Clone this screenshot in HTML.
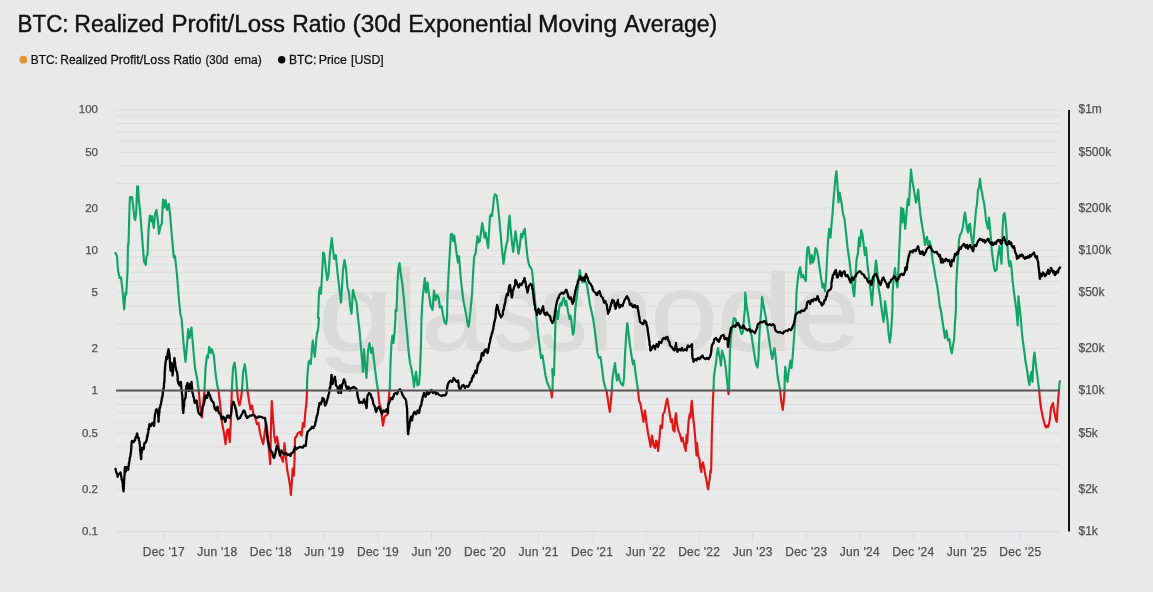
<!DOCTYPE html>
<html><head><meta charset="utf-8"><title>BTC: Realized Profit/Loss Ratio</title>
<style>
html,body{margin:0;padding:0;background:#e9e9e9;}
body{width:1153px;height:592px;overflow:hidden;position:relative;font-family:"Liberation Sans",sans-serif;}
svg{position:absolute;left:0;top:0;will-change:transform;}
text{font-family:"Liberation Sans",sans-serif;}
</style></head><body>
<svg width="1153" height="592" viewBox="0 0 1153 592">
<rect width="1153" height="592" fill="#e9e9e9"/>
<g id="wm" fill="#dadada" stroke="#dadada" stroke-width="1.3" font-size="115">
<text transform="translate(317.99,349.5) scale(1.1807,0.945)" vector-effect="non-scaling-stroke">g</text>
<text transform="translate(390.31,349.5) scale(1.0700,1)" vector-effect="non-scaling-stroke">l</text>
<text transform="translate(421.48,349.5) scale(0.9847,0.945)" vector-effect="non-scaling-stroke">a</text>
<text transform="translate(493.79,349.5) scale(0.8340,0.945)" vector-effect="non-scaling-stroke">s</text>
<text transform="translate(539.96,349.5) scale(0.8120,0.945)" vector-effect="non-scaling-stroke">s</text>
<text transform="translate(587.02,349.5) scale(1.0297,0.945)" vector-effect="non-scaling-stroke">n</text>
<text transform="translate(650.40,349.5) scale(1.0525,0.945)" vector-effect="non-scaling-stroke">o</text>
<text transform="translate(716.70,349.5) scale(1.2000,0.958)" vector-effect="non-scaling-stroke">d</text>
<text transform="translate(791.68,349.5) scale(1.0642,0.945)" vector-effect="non-scaling-stroke">e</text>
</g>
<line x1="116" x2="1060" y1="531.4" y2="531.4" stroke="#dddde1" stroke-width="1"/>
<line x1="116" x2="1060" y1="489.1" y2="489.1" stroke="#dddde1" stroke-width="1"/>
<line x1="116" x2="1060" y1="464.4" y2="464.4" stroke="#dddde1" stroke-width="1"/>
<line x1="116" x2="1060" y1="446.8" y2="446.8" stroke="#dddde1" stroke-width="1"/>
<line x1="116" x2="1060" y1="433.2" y2="433.2" stroke="#dddde1" stroke-width="1"/>
<line x1="116" x2="1060" y1="422.1" y2="422.1" stroke="#dddde1" stroke-width="1"/>
<line x1="116" x2="1060" y1="412.7" y2="412.7" stroke="#dddde1" stroke-width="1"/>
<line x1="116" x2="1060" y1="404.5" y2="404.5" stroke="#dddde1" stroke-width="1"/>
<line x1="116" x2="1060" y1="397.3" y2="397.3" stroke="#dddde1" stroke-width="1"/>
<line x1="116" x2="1060" y1="390.9" y2="390.9" stroke="#dddde1" stroke-width="1"/>
<line x1="116" x2="1060" y1="348.6" y2="348.6" stroke="#dddde1" stroke-width="1"/>
<line x1="116" x2="1060" y1="323.9" y2="323.9" stroke="#dddde1" stroke-width="1"/>
<line x1="116" x2="1060" y1="306.3" y2="306.3" stroke="#dddde1" stroke-width="1"/>
<line x1="116" x2="1060" y1="292.7" y2="292.7" stroke="#dddde1" stroke-width="1"/>
<line x1="116" x2="1060" y1="281.6" y2="281.6" stroke="#dddde1" stroke-width="1"/>
<line x1="116" x2="1060" y1="272.2" y2="272.2" stroke="#dddde1" stroke-width="1"/>
<line x1="116" x2="1060" y1="264.0" y2="264.0" stroke="#dddde1" stroke-width="1"/>
<line x1="116" x2="1060" y1="256.8" y2="256.8" stroke="#dddde1" stroke-width="1"/>
<line x1="116" x2="1060" y1="250.4" y2="250.4" stroke="#dddde1" stroke-width="1"/>
<line x1="116" x2="1060" y1="208.1" y2="208.1" stroke="#dddde1" stroke-width="1"/>
<line x1="116" x2="1060" y1="183.4" y2="183.4" stroke="#dddde1" stroke-width="1"/>
<line x1="116" x2="1060" y1="165.8" y2="165.8" stroke="#dddde1" stroke-width="1"/>
<line x1="116" x2="1060" y1="152.2" y2="152.2" stroke="#dddde1" stroke-width="1"/>
<line x1="116" x2="1060" y1="141.1" y2="141.1" stroke="#dddde1" stroke-width="1"/>
<line x1="116" x2="1060" y1="131.7" y2="131.7" stroke="#dddde1" stroke-width="1"/>
<line x1="116" x2="1060" y1="123.5" y2="123.5" stroke="#dddde1" stroke-width="1"/>
<line x1="116" x2="1060" y1="116.3" y2="116.3" stroke="#dddde1" stroke-width="1"/>
<line x1="116" x2="1060" y1="109.9" y2="109.9" stroke="#dddde1" stroke-width="1"/>
<line x1="116" x2="1060" y1="531.5" y2="531.5" stroke="#d5dae3" stroke-width="1"/>
<line x1="163.8" x2="163.8" y1="531" y2="541.5" stroke="#d5dae3" stroke-width="1"/>
<text class="xl" x="163.8" y="556" text-anchor="middle" font-size="12" letter-spacing="0.25" fill="#505050" stroke="#505050" stroke-width="0.25">Dec '17</text>
<line x1="217.3" x2="217.3" y1="531" y2="541.5" stroke="#d5dae3" stroke-width="1"/>
<text class="xl" x="217.3" y="556" text-anchor="middle" font-size="12" letter-spacing="0.25" fill="#505050" stroke="#505050" stroke-width="0.25">Jun '18</text>
<line x1="270.9" x2="270.9" y1="531" y2="541.5" stroke="#d5dae3" stroke-width="1"/>
<text class="xl" x="270.9" y="556" text-anchor="middle" font-size="12" letter-spacing="0.25" fill="#505050" stroke="#505050" stroke-width="0.25">Dec '18</text>
<line x1="324.4" x2="324.4" y1="531" y2="541.5" stroke="#d5dae3" stroke-width="1"/>
<text class="xl" x="324.4" y="556" text-anchor="middle" font-size="12" letter-spacing="0.25" fill="#505050" stroke="#505050" stroke-width="0.25">Jun '19</text>
<line x1="378.0" x2="378.0" y1="531" y2="541.5" stroke="#d5dae3" stroke-width="1"/>
<text class="xl" x="378.0" y="556" text-anchor="middle" font-size="12" letter-spacing="0.25" fill="#505050" stroke="#505050" stroke-width="0.25">Dec '19</text>
<line x1="431.5" x2="431.5" y1="531" y2="541.5" stroke="#d5dae3" stroke-width="1"/>
<text class="xl" x="431.5" y="556" text-anchor="middle" font-size="12" letter-spacing="0.25" fill="#505050" stroke="#505050" stroke-width="0.25">Jun '20</text>
<line x1="485.0" x2="485.0" y1="531" y2="541.5" stroke="#d5dae3" stroke-width="1"/>
<text class="xl" x="485.0" y="556" text-anchor="middle" font-size="12" letter-spacing="0.25" fill="#505050" stroke="#505050" stroke-width="0.25">Dec '20</text>
<line x1="538.6" x2="538.6" y1="531" y2="541.5" stroke="#d5dae3" stroke-width="1"/>
<text class="xl" x="538.6" y="556" text-anchor="middle" font-size="12" letter-spacing="0.25" fill="#505050" stroke="#505050" stroke-width="0.25">Jun '21</text>
<line x1="592.1" x2="592.1" y1="531" y2="541.5" stroke="#d5dae3" stroke-width="1"/>
<text class="xl" x="592.1" y="556" text-anchor="middle" font-size="12" letter-spacing="0.25" fill="#505050" stroke="#505050" stroke-width="0.25">Dec '21</text>
<line x1="645.7" x2="645.7" y1="531" y2="541.5" stroke="#d5dae3" stroke-width="1"/>
<text class="xl" x="645.7" y="556" text-anchor="middle" font-size="12" letter-spacing="0.25" fill="#505050" stroke="#505050" stroke-width="0.25">Jun '22</text>
<line x1="699.2" x2="699.2" y1="531" y2="541.5" stroke="#d5dae3" stroke-width="1"/>
<text class="xl" x="699.2" y="556" text-anchor="middle" font-size="12" letter-spacing="0.25" fill="#505050" stroke="#505050" stroke-width="0.25">Dec '22</text>
<line x1="752.7" x2="752.7" y1="531" y2="541.5" stroke="#d5dae3" stroke-width="1"/>
<text class="xl" x="752.7" y="556" text-anchor="middle" font-size="12" letter-spacing="0.25" fill="#505050" stroke="#505050" stroke-width="0.25">Jun '23</text>
<line x1="806.3" x2="806.3" y1="531" y2="541.5" stroke="#d5dae3" stroke-width="1"/>
<text class="xl" x="806.3" y="556" text-anchor="middle" font-size="12" letter-spacing="0.25" fill="#505050" stroke="#505050" stroke-width="0.25">Dec '23</text>
<line x1="859.8" x2="859.8" y1="531" y2="541.5" stroke="#d5dae3" stroke-width="1"/>
<text class="xl" x="859.8" y="556" text-anchor="middle" font-size="12" letter-spacing="0.25" fill="#505050" stroke="#505050" stroke-width="0.25">Jun '24</text>
<line x1="913.4" x2="913.4" y1="531" y2="541.5" stroke="#d5dae3" stroke-width="1"/>
<text class="xl" x="913.4" y="556" text-anchor="middle" font-size="12" letter-spacing="0.25" fill="#505050" stroke="#505050" stroke-width="0.25">Dec '24</text>
<line x1="966.9" x2="966.9" y1="531" y2="541.5" stroke="#d5dae3" stroke-width="1"/>
<text class="xl" x="966.9" y="556" text-anchor="middle" font-size="12" letter-spacing="0.25" fill="#505050" stroke="#505050" stroke-width="0.25">Jun '25</text>
<line x1="1020.4" x2="1020.4" y1="531" y2="541.5" stroke="#d5dae3" stroke-width="1"/>
<text class="xl" x="1020.4" y="556" text-anchor="middle" font-size="12" letter-spacing="0.25" fill="#505050" stroke="#505050" stroke-width="0.25">Dec '25</text>
<text class="yl" x="98" y="113.4" text-anchor="end" font-size="11.5" fill="#505050" stroke="#505050" stroke-width="0.25">100</text>
<text class="yl" x="98" y="155.7" text-anchor="end" font-size="11.5" fill="#505050" stroke="#505050" stroke-width="0.25">50</text>
<text class="yl" x="98" y="211.6" text-anchor="end" font-size="11.5" fill="#505050" stroke="#505050" stroke-width="0.25">20</text>
<text class="yl" x="98" y="253.9" text-anchor="end" font-size="11.5" fill="#505050" stroke="#505050" stroke-width="0.25">10</text>
<text class="yl" x="98" y="296.2" text-anchor="end" font-size="11.5" fill="#505050" stroke="#505050" stroke-width="0.25">5</text>
<text class="yl" x="98" y="352.1" text-anchor="end" font-size="11.5" fill="#505050" stroke="#505050" stroke-width="0.25">2</text>
<text class="yl" x="98" y="394.4" text-anchor="end" font-size="11.5" fill="#505050" stroke="#505050" stroke-width="0.25">1</text>
<text class="yl" x="98" y="436.7" text-anchor="end" font-size="11.5" fill="#505050" stroke="#505050" stroke-width="0.25">0.5</text>
<text class="yl" x="98" y="492.6" text-anchor="end" font-size="11.5" fill="#505050" stroke="#505050" stroke-width="0.25">0.2</text>
<text class="yl" x="98" y="534.9" text-anchor="end" font-size="11.5" fill="#505050" stroke="#505050" stroke-width="0.25">0.1</text>
<text class="yr" x="1078.5" y="113.4" font-size="12" fill="#505050" stroke="#505050" stroke-width="0.25">$1m</text>
<text class="yr" x="1078.5" y="155.7" font-size="12" fill="#505050" stroke="#505050" stroke-width="0.25">$500k</text>
<text class="yr" x="1078.5" y="211.6" font-size="12" fill="#505050" stroke="#505050" stroke-width="0.25">$200k</text>
<text class="yr" x="1078.5" y="253.9" font-size="12" fill="#505050" stroke="#505050" stroke-width="0.25">$100k</text>
<text class="yr" x="1078.5" y="296.2" font-size="12" fill="#505050" stroke="#505050" stroke-width="0.25">$50k</text>
<text class="yr" x="1078.5" y="352.1" font-size="12" fill="#505050" stroke="#505050" stroke-width="0.25">$20k</text>
<text class="yr" x="1078.5" y="394.4" font-size="12" fill="#505050" stroke="#505050" stroke-width="0.25">$10k</text>
<text class="yr" x="1078.5" y="436.7" font-size="12" fill="#505050" stroke="#505050" stroke-width="0.25">$5k</text>
<text class="yr" x="1078.5" y="492.6" font-size="12" fill="#505050" stroke="#505050" stroke-width="0.25">$2k</text>
<text class="yr" x="1078.5" y="534.9" font-size="12" fill="#505050" stroke="#505050" stroke-width="0.25">$1k</text>
<line x1="1069" x2="1069" y1="109.9" y2="531.4" stroke="#111" stroke-width="2"/>
<path d="M115.5 253.0 L117.0 256.2 L118.0 270.0 L119.5 278.0 L121.0 277.5 L122.5 290.0 L124.2 309.5 L125.5 292.5 L126.2 294.5 L127.5 272.5 L128.0 244.0 L128.5 245.0 L129.5 207.5 L130.0 197.0 L132.0 197.0 L133.0 205.0 L134.5 218.8 L135.2 220.0 L136.2 212.5 L137.2 186.2 L138.0 186.2 L138.8 200.0 L140.0 210.0 L142.5 242.5 L144.0 261.2 L145.8 265.0 L146.5 256.2 L147.5 255.0 L148.5 230.0 L149.8 215.5 L151.0 221.2 L152.0 216.2 L153.8 228.0 L155.0 213.8 L156.5 210.0 L158.0 222.5 L159.0 233.8 L160.5 226.2 L161.8 223.8 L163.0 199.5 L164.2 207.5 L165.5 200.0 L167.0 210.0 L168.8 203.8 L170.0 213.8 L172.0 237.5 L173.8 257.5 L175.0 256.2 L177.0 275.0 L179.0 300.0 L180.5 315.0 L181.5 318.0 L181.5 318.0 L183.5 343.0 L185.5 361.8 L187.0 345.5 L188.2 329.2 L189.5 338.0 L191.5 327.5 L193.0 345.5 L195.0 368.0 L197.0 378.0 L198.7 390.3" fill="none" stroke="#10a567" stroke-width="2.15" stroke-linejoin="round" stroke-linecap="round"/>
<path d="M198.7 390.3 L198.8 390.5 L200.0 405.5 L202.0 417.5 L203.2 403.0 L204.5 390.5 L204.5 390.3" fill="none" stroke="#e01515" stroke-width="2.15" stroke-linejoin="round" stroke-linecap="round"/>
<path d="M204.5 390.3 L205.5 368.0 L207.0 355.5 L208.0 358.0 L209.2 346.8 L210.8 353.0 L212.0 349.2 L213.8 355.5 L215.5 373.0 L217.5 386.8 L218.4 390.3" fill="none" stroke="#10a567" stroke-width="2.15" stroke-linejoin="round" stroke-linecap="round"/>
<path d="M218.4 390.3 L218.5 390.5 L220.0 403.0 L222.0 423.0 L224.0 433.0 L225.5 444.2 L227.0 430.5 L228.2 429.2 L229.8 442.2 L231.0 418.0 L231.8 390.5 L231.8 390.3" fill="none" stroke="#e01515" stroke-width="2.15" stroke-linejoin="round" stroke-linecap="round"/>
<path d="M231.8 390.3 L233.0 368.0 L234.5 362.5 L235.8 371.8 L237.0 390.3" fill="none" stroke="#10a567" stroke-width="2.15" stroke-linejoin="round" stroke-linecap="round"/>
<path d="M237.0 390.3 L237.0 390.5 L238.2 400.5 L239.5 405.5 L241.0 398.0 L242.0 390.5 L242.0 390.3" fill="none" stroke="#e01515" stroke-width="2.15" stroke-linejoin="round" stroke-linecap="round"/>
<path d="M242.0 390.3 L243.0 373.0 L244.8 364.2 L246.0 373.0 L247.5 390.3" fill="none" stroke="#10a567" stroke-width="2.15" stroke-linejoin="round" stroke-linecap="round"/>
<path d="M247.5 390.3 L247.5 390.5 L249.0 400.5 L250.5 409.2 L252.0 405.5 L253.5 414.2 L255.0 416.8 L257.0 424.2 L258.5 423.0 L260.0 433.0 L262.0 440.5 L263.2 444.2 L265.0 430.5 L266.2 423.0 L267.5 433.0 L269.0 450.5 L270.2 464.2 L271.0 425.5 L271.8 401.0 L273.0 418.0 L274.2 435.5 L275.5 443.0 L277.0 436.8 L278.5 445.5 L280.0 454.2 L281.5 458.0 L283.0 461.8 L284.5 443.0 L285.8 456.3 L287.3 470.3 L288.7 477.4 L290.1 486.2 L290.9 494.9 L291.8 482.6 L292.7 468.6 L293.9 475.6 L294.6 458.0 L295.0 437.8 L296.2 436.8 L298.0 433.0 L300.0 431.8 L301.5 435.5 L303.0 423.0 L304.2 426.8 L305.5 410.5 L306.5 403.0 L307.0 390.5 L307.0 390.3" fill="none" stroke="#e01515" stroke-width="2.15" stroke-linejoin="round" stroke-linecap="round"/>
<path d="M307.0 390.3 L307.2 378.0 L308.5 363.0 L309.5 360.5 L310.8 364.2 L312.0 348.0 L312.8 340.5 L313.8 350.5 L314.8 356.8 L316.0 343.0 L317.0 333.0 L318.0 330.5 L319.0 318.0 L318.0 318.0 L319.0 292.5 L320.0 287.5 L321.0 293.8 L322.0 275.0 L323.2 252.5 L324.2 253.8 L325.8 268.8 L327.2 280.0 L328.5 275.0 L330.0 252.5 L331.8 238.2 L333.0 250.0 L334.2 258.8 L335.8 255.0 L337.5 272.5 L339.5 290.0 L341.0 302.5 L341.8 290.0 L343.0 270.0 L344.5 260.0 L346.0 268.8 L347.5 287.5 L349.0 292.5 L350.0 305.0 L351.5 313.8 L353.0 290.0 L354.5 296.2 L356.5 302.5 L358.0 318.0 L359.5 330.5 L361.2 350.5 L363.0 371.8 L364.0 349.2 L365.0 363.0 L366.5 378.0 L368.0 350.5 L369.5 343.0 L371.0 353.0 L372.5 347.5 L374.0 360.5 L375.5 373.0 L377.0 384.2 L378.0 390.3" fill="none" stroke="#10a567" stroke-width="2.15" stroke-linejoin="round" stroke-linecap="round"/>
<path d="M378.0 390.3 L378.0 390.5 L379.5 404.2 L381.0 408.0 L382.0 418.0 L383.0 425.5 L384.5 416.8 L385.8 415.5 L387.0 415.0 L387.5 413.8 L388.2 405.5 L389.0 396.0 L389.4 391.0 L389.5 390.3" fill="none" stroke="#e01515" stroke-width="2.15" stroke-linejoin="round" stroke-linecap="round"/>
<path d="M389.5 390.3 L389.8 388.0 L390.5 363.0 L391.5 343.0 L392.5 335.5 L393.5 343.0 L394.5 333.0 L395.5 318.0 L395.5 310.0 L396.5 311.2 L397.5 282.5 L398.5 267.5 L399.5 263.0 L401.0 275.0 L402.5 285.0 L404.0 300.0 L405.5 318.0 L407.0 333.0 L408.5 350.5 L410.0 363.0 L411.5 369.2 L413.0 378.0 L414.0 386.8 L415.0 378.0 L416.0 371.8 L417.5 385.5 L419.0 384.2 L420.0 371.8 L421.0 343.0 L421.5 318.0 L422.5 300.0 L423.5 290.0 L424.8 278.0 L426.0 292.5 L427.5 282.5 L429.0 295.0 L430.5 305.0 L432.5 310.0 L434.0 290.5 L435.5 300.0 L437.0 295.0 L438.5 297.5 L440.0 307.5 L441.5 306.2 L443.0 315.0 L444.5 321.8 L446.0 324.2 L447.0 318.0 L447.5 295.0 L448.8 270.0 L449.8 252.5 L450.8 234.5 L452.0 233.8 L453.0 241.2 L454.2 235.5 L455.5 245.0 L457.0 256.2 L458.0 262.5 L459.0 256.2 L460.5 275.0 L462.0 290.0 L463.5 301.2 L465.0 308.8 L466.5 316.2 L467.5 323.0 L468.5 326.8 L469.5 320.5 L470.5 310.0 L472.0 295.0 L473.0 275.0 L474.2 256.2 L475.5 253.8 L476.5 245.0 L477.5 236.2 L478.5 242.5 L479.8 241.2 L481.0 232.5 L482.2 223.0 L483.5 230.0 L484.5 237.5 L485.5 232.5 L487.0 241.2 L488.2 248.0 L489.0 232.5 L490.0 216.2 L491.0 214.5 L492.0 216.2 L493.0 207.5 L494.0 197.5 L495.0 194.2 L496.5 195.5 L497.5 202.5 L499.0 216.2 L500.5 232.5 L502.0 250.0 L503.5 263.8 L505.0 252.5 L506.5 243.8 L507.5 241.2 L508.5 225.0 L509.5 215.5 L510.5 227.5 L512.0 242.5 L513.2 252.0 L514.5 240.0 L515.5 231.2 L517.0 242.5 L518.5 253.8 L520.0 245.0 L521.0 233.8 L522.2 237.5 L523.5 231.2 L524.8 228.8 L526.0 242.5 L527.5 257.5 L529.0 265.0 L530.5 267.5 L532.0 270.0 L533.0 280.0 L534.5 295.0 L535.5 307.5 L536.5 318.0 L538.0 333.0 L539.5 345.5 L541.0 358.0 L542.5 355.5 L544.0 365.5 L545.5 375.5 L547.0 381.8 L548.5 385.5 L550.0 389.2 L550.8 390.3" fill="none" stroke="#10a567" stroke-width="2.15" stroke-linejoin="round" stroke-linecap="round"/>
<path d="M550.8 390.3 L551.0 390.5 L551.8 397.5 L552.5 390.5 L552.5 390.3" fill="none" stroke="#e01515" stroke-width="2.15" stroke-linejoin="round" stroke-linecap="round"/>
<path d="M552.5 390.3 L552.8 378.0 L552.2 369.2 L554.0 375.5 L554.5 355.5 L555.0 338.8 L555.5 320.5 L556.3 310.4 L557.1 314.4 L557.9 319.0 L558.7 312.4 L559.7 304.8 L560.7 302.8 L561.5 305.8 L562.6 300.3 L563.8 297.7 L564.8 301.8 L565.4 305.3 L566.2 300.8 L567.0 305.3 L568.0 311.4 L568.8 315.5 L569.6 319.0 L570.5 315.5 L571.3 320.5 L572.1 327.6 L572.9 334.7 L573.7 332.7 L574.5 323.6 L575.2 310.4 L576.2 301.3 L577.0 295.0 L578.5 282.5 L579.8 270.0 L581.0 277.5 L582.5 282.5 L584.0 280.0 L585.5 281.2 L587.0 285.0 L588.5 295.0 L590.0 305.0 L591.5 311.2 L593.0 318.0 L594.5 328.0 L596.0 340.5 L597.5 353.0 L599.0 358.0 L600.5 356.8 L602.0 368.0 L603.5 380.5 L605.0 386.8 L606.4 390.3" fill="none" stroke="#10a567" stroke-width="2.15" stroke-linejoin="round" stroke-linecap="round"/>
<path d="M606.4 390.3 L606.5 390.5 L608.0 400.5 L609.8 411.8 L611.0 400.5 L611.8 390.5 L611.8 390.3" fill="none" stroke="#e01515" stroke-width="2.15" stroke-linejoin="round" stroke-linecap="round"/>
<path d="M611.8 390.3 L612.5 378.0 L613.5 371.8 L615.0 363.0 L616.0 373.0 L617.0 380.5 L618.5 374.2 L620.0 381.8 L621.5 384.2 L623.0 385.5 L624.0 378.0 L625.0 355.5 L626.0 338.0 L627.2 323.0 L628.5 333.0 L630.0 345.5 L631.5 355.5 L633.0 364.2 L634.0 360.5 L635.5 373.0 L637.0 383.0 L638.0 390.3" fill="none" stroke="#10a567" stroke-width="2.15" stroke-linejoin="round" stroke-linecap="round"/>
<path d="M638.0 390.3 L638.0 390.5 L639.0 400.5 L640.5 404.2 L642.0 413.0 L643.5 421.8 L645.0 410.5 L646.5 423.0 L648.0 433.0 L649.5 440.5 L650.5 446.8 L652.0 435.5 L653.5 445.5 L655.0 448.0 L656.0 440.5 L657.0 443.0 L658.2 451.0 L659.5 438.0 L660.5 425.5 L662.0 428.0 L663.0 414.2 L664.5 411.8 L666.0 403.0 L667.2 398.5 L668.6 407.0 L670.0 415.8 L671.0 422.0 L672.1 419.3 L673.1 429.9 L674.5 431.6 L675.3 417.6 L676.0 413.2 L676.7 421.1 L678.1 429.9 L679.5 433.4 L680.9 437.8 L681.6 441.3 L682.6 437.8 L683.7 443.1 L684.7 447.5 L685.8 451.0 L686.5 435.2 L687.2 443.1 L687.9 431.6 L688.6 421.1 L689.7 414.1 L690.4 417.6 L691.1 407.0 L691.8 400.9 L692.5 408.8 L693.2 417.6 L694.2 426.4 L695.3 438.7 L696.0 449.2 L696.5 455.4 L697.1 443.1 L697.8 452.7 L698.5 457.1 L699.5 458.9 L700.2 466.8 L701.3 472.1 L702.0 464.2 L703.0 462.4 L704.1 467.7 L705.1 473.8 L706.2 479.1 L707.3 485.3 L708.1 489.3 L709.0 482.6 L709.7 479.1 L710.4 470.3 L711.1 472.1 L711.5 452.7 L711.8 435.2 L712.5 414.1 L713.0 398.0 L713.5 390.5 L713.5 390.3" fill="none" stroke="#e01515" stroke-width="2.15" stroke-linejoin="round" stroke-linecap="round"/>
<path d="M713.5 390.3 L714.0 375.5 L715.0 369.2 L716.0 363.0 L717.0 353.0 L718.0 348.0 L719.0 354.2 L720.0 358.0 L721.0 365.5 L722.0 350.5 L723.5 355.5 L725.0 361.8 L726.0 370.5 L727.0 380.5 L728.0 390.3" fill="none" stroke="#10a567" stroke-width="2.15" stroke-linejoin="round" stroke-linecap="round"/>
<path d="M728.0 390.3 L728.0 390.5 L728.5 394.2 L729.0 390.5 L729.0 390.3" fill="none" stroke="#e01515" stroke-width="2.15" stroke-linejoin="round" stroke-linecap="round"/>
<path d="M729.0 390.3 L729.5 370.5 L730.0 350.5 L731.0 335.5 L732.5 325.5 L734.0 318.0 L735.5 319.2 L737.0 325.5 L738.5 323.0 L740.0 329.2 L741.5 334.2 L743.0 331.8 L744.0 318.0 L745.0 308.0 L745.2 292.5 L747.0 308.0 L748.5 318.0 L750.0 328.0 L751.5 335.5 L753.0 345.5 L754.5 355.5 L756.0 364.2 L757.5 367.5 L758.5 358.0 L759.5 333.0 L760.5 318.0 L761.5 308.0 L762.0 297.0 L764.0 308.0 L765.5 315.5 L767.0 325.5 L768.5 335.5 L770.0 345.5 L771.5 355.5 L772.5 359.2 L773.5 351.8 L774.5 348.0 L775.5 355.5 L776.5 365.5 L777.5 375.5 L778.5 381.8 L779.5 386.8 L780.2 390.3" fill="none" stroke="#10a567" stroke-width="2.15" stroke-linejoin="round" stroke-linecap="round"/>
<path d="M780.2 390.3 L780.2 390.5 L781.2 400.5 L782.8 410.0 L783.8 400.5 L784.5 390.5 L784.5 390.3" fill="none" stroke="#e01515" stroke-width="2.15" stroke-linejoin="round" stroke-linecap="round"/>
<path d="M784.5 390.3 L784.8 375.5 L785.2 366.8 L786.2 375.5 L787.5 381.8 L788.5 373.0 L789.5 366.8 L790.5 360.5 L791.5 368.0 L792.5 358.0 L793.5 345.5 L794.5 330.5 L795.5 315.5 L796.0 308.0 L796.5 292.5 L798.0 277.5 L799.2 270.0 L800.2 267.0 L801.5 277.5 L803.0 275.0 L804.5 278.8 L805.8 281.2 L806.5 260.0 L807.5 247.5 L808.5 247.0 L809.5 255.0 L810.5 263.8 L811.8 255.0 L813.0 262.5 L814.2 258.8 L815.5 248.0 L816.8 250.0 L818.0 256.2 L819.5 267.5 L821.0 277.5 L822.5 287.5 L823.5 283.8 L825.0 291.2 L826.0 280.0 L827.0 260.0 L828.0 241.2 L829.2 228.8 L830.5 237.5 L831.5 225.0 L832.5 213.8 L833.5 200.0 L834.5 188.8 L835.5 177.5 L836.5 171.2 L837.5 185.0 L838.5 202.5 L839.5 192.5 L840.5 197.5 L841.5 202.5 L843.0 213.8 L844.5 218.8 L846.0 232.5 L847.5 247.5 L849.0 257.5 L850.5 270.0 L852.0 280.0 L853.0 290.0 L854.2 296.2 L855.5 277.5 L856.5 260.0 L858.0 252.5 L859.0 237.5 L860.0 246.2 L861.2 230.0 L862.5 235.0 L864.0 247.5 L865.0 255.0 L866.0 247.5 L867.5 265.0 L869.0 277.5 L870.5 290.0 L872.0 305.5 L873.0 290.0 L874.5 275.0 L876.0 260.5 L877.2 270.0 L878.5 287.5 L880.0 296.2 L881.5 308.0 L882.5 315.5 L883.5 321.8 L884.5 313.0 L885.0 301.2 L886.0 308.0 L887.5 320.5 L888.5 333.0 L889.8 342.5 L891.0 333.0 L892.0 318.0 L892.5 308.0 L892.5 295.0 L893.5 280.0 L895.0 268.0 L896.0 280.0 L897.5 287.5 L898.5 267.5 L899.5 245.0 L900.5 222.5 L901.2 207.5 L902.2 222.5 L903.2 208.8 L904.2 217.5 L905.2 228.8 L906.2 217.5 L907.2 205.0 L908.0 198.8 L909.0 205.0 L910.0 185.0 L911.0 169.5 L912.2 180.0 L913.5 187.5 L914.8 195.0 L916.0 202.5 L917.2 197.5 L918.2 189.5 L919.2 202.5 L920.5 215.0 L922.0 225.0 L923.5 233.8 L925.0 245.0 L926.0 238.8 L927.0 237.0 L928.0 245.0 L929.5 241.2 L931.0 246.2 L932.5 260.0 L934.0 267.5 L935.5 277.5 L937.0 285.0 L938.5 295.0 L940.0 308.0 L940.5 308.0 L942.0 318.0 L943.5 328.0 L945.0 338.0 L946.5 330.5 L948.0 340.5 L949.5 339.2 L950.5 348.0 L951.8 353.5 L953.0 345.5 L954.0 340.5 L955.0 323.0 L956.0 308.0 L956.0 290.0 L957.0 270.0 L958.0 255.0 L959.0 240.0 L960.0 235.0 L961.5 232.5 L963.0 226.2 L964.0 217.5 L965.0 212.5 L966.0 220.0 L967.0 228.8 L968.0 232.5 L969.0 225.0 L970.0 223.8 L971.0 235.0 L972.0 240.0 L973.0 246.2 L974.0 232.5 L975.0 222.5 L976.0 210.0 L977.0 203.8 L978.0 190.0 L979.0 187.5 L980.0 178.8 L981.0 187.5 L982.0 192.5 L983.0 198.8 L984.0 202.5 L985.0 210.0 L986.0 220.0 L987.0 225.0 L988.0 228.8 L989.0 217.5 L990.0 227.5 L991.0 240.0 L992.0 252.5 L993.0 260.0 L994.0 267.5 L995.0 271.2 L996.5 270.0 L997.5 260.0 L998.5 252.5 L999.5 246.2 L1000.5 255.0 L1001.5 263.8 L1002.0 247.5 L1002.5 230.0 L1003.5 215.0 L1004.5 213.0 L1005.5 220.0 L1006.5 232.5 L1007.5 247.5 L1008.5 260.0 L1009.5 266.2 L1010.5 261.2 L1011.5 267.5 L1012.5 280.0 L1014.0 292.5 L1016.4 310.5 L1017.7 325.4 L1018.4 296.4 L1020.4 314.6 L1022.4 337.6 L1024.5 353.0 L1025.5 361.8 L1026.5 366.8 L1027.5 373.0 L1028.5 380.5 L1029.5 385.0 L1030.5 375.5 L1031.5 371.8 L1032.5 381.8 L1033.0 368.0 L1033.8 356.8 L1034.5 352.5 L1035.5 361.8 L1036.5 370.5 L1037.5 376.8 L1038.5 385.5 L1039.2 390.3" fill="none" stroke="#10a567" stroke-width="2.15" stroke-linejoin="round" stroke-linecap="round"/>
<path d="M1039.2 390.3 L1039.2 390.5 L1040.0 400.5 L1041.0 408.0 L1042.0 413.0 L1043.0 418.0 L1044.0 421.8 L1045.0 425.5 L1046.0 427.5 L1047.0 425.5 L1048.0 426.8 L1049.0 424.2 L1050.0 418.0 L1051.0 408.0 L1052.0 405.5 L1053.0 403.0 L1054.0 410.5 L1055.0 415.5 L1056.0 420.5 L1056.8 421.8 L1057.5 408.0 L1058.5 395.5 L1059.0 390.5 L1059.0 390.3" fill="none" stroke="#e01515" stroke-width="2.15" stroke-linejoin="round" stroke-linecap="round"/>
<path d="M1059.0 390.3 L1059.5 383.0 L1060.0 381.0" fill="none" stroke="#10a567" stroke-width="2.15" stroke-linejoin="round" stroke-linecap="round"/>
<path d="M115.5 468.9 L115.7 469.6 L116.0 471.6 L116.5 472.4 L116.7 473.6 L117.0 473.5 L117.3 474.6 L117.6 476.8 L118.1 474.4 L119.0 474.2 L119.8 473.1 L120.4 472.4 L120.6 472.6 L121.0 474.9 L121.1 475.9 L121.4 476.8 L121.6 479.2 L121.9 480.3 L122.1 479.9 L122.5 482.1 L122.7 482.8 L122.8 483.6 L122.8 485.9 L122.9 486.8 L123.1 486.8 L123.2 489.5 L123.4 489.8 L123.5 491.4 L123.5 490.1 L123.7 489.7 L123.7 487.3 L123.9 486.8 L123.8 486.1 L123.8 485.5 L124.1 483.0 L124.0 481.2 L124.2 479.8 L124.2 480.3 L124.2 478.5 L124.3 478.3 L124.4 476.7 L124.4 475.3 L124.7 474.8 L124.6 472.8 L124.7 470.6 L124.9 470.9 L124.7 470.2 L124.9 468.0 L124.9 467.1 L125.2 467.1 L125.4 468.5 L125.8 469.4 L126.0 471.5 L126.2 469.5 L126.6 469.1 L126.8 467.2 L127.0 467.1 L127.7 468.6 L128.1 469.8 L128.4 469.4 L128.4 466.9 L128.7 465.9 L128.7 466.2 L128.9 463.1 L129.2 462.7 L129.4 460.9 L129.5 460.5 L129.8 457.9 L130.0 457.5 L130.2 456.6 L130.4 456.5 L130.5 454.4 L130.5 453.6 L130.9 453.0 L131.0 451.8 L131.1 449.6 L131.3 448.7 L131.4 446.6 L131.3 445.4 L131.5 444.7 L131.5 443.9 L131.7 442.0 L131.9 441.1 L132.0 441.0 L133.5 442.2 L134.4 440.2 L135.0 440.5 L135.2 439.6 L135.6 437.6 L135.9 436.7 L136.5 436.7 L136.7 434.6 L137.0 433.5 L137.2 433.6 L137.6 435.4 L137.8 437.7 L138.2 438.0 L138.8 438.1 L139.0 440.6 L139.5 441.8 L139.5 443.0 L139.8 444.2 L139.9 446.1 L139.9 445.8 L140.1 446.8 L140.2 448.8 L140.1 449.5 L140.4 451.8 L140.5 453.1 L140.6 454.2 L140.6 453.9 L140.6 455.4 L140.7 455.8 L141.0 457.5 L141.0 459.2 L141.1 459.2 L141.3 458.0 L141.3 457.0 L141.3 454.1 L141.4 452.9 L141.7 452.8 L141.7 452.2 L141.9 450.6 L141.9 448.1 L142.0 448.0 L143.5 449.2 L143.8 449.0 L143.9 447.4 L144.2 444.7 L144.4 443.8 L144.5 443.0 L145.5 442.9 L146.5 440.5 L146.9 439.0 L146.9 438.5 L147.1 435.9 L147.6 436.5 L147.8 433.4 L148.0 433.0 L148.2 433.1 L148.4 430.5 L148.4 428.8 L148.8 429.8 L149.1 427.6 L149.2 426.3 L149.2 426.1 L149.5 424.2 L150.2 424.5 L151.0 426.0 L151.5 424.4 L152.0 423.4 L152.5 423.0 L153.1 423.1 L153.5 424.6 L154.0 426.0 L154.2 425.0 L154.3 423.5 L154.3 422.5 L154.3 421.4 L154.4 420.0 L154.7 417.8 L154.7 417.0 L154.8 417.1 L154.9 415.0 L155.0 414.2 L155.5 413.1 L155.8 410.8 L156.1 409.9 L156.5 409.2 L157.3 410.8 L158.0 411.0 L158.1 412.3 L158.1 414.4 L158.2 414.9 L158.3 415.8 L158.3 416.9 L158.5 418.1 L158.5 419.8 L158.4 421.6 L158.5 421.8 L158.7 420.7 L158.6 420.3 L158.7 417.4 L158.8 416.1 L159.0 415.0 L159.1 415.6 L159.1 412.9 L159.1 413.0 L159.4 412.4 L159.5 409.6 L159.4 408.9 L159.5 408.0 L160.1 407.9 L160.5 404.7 L161.0 404.2 L161.1 403.2 L161.3 401.3 L161.4 401.5 L161.7 400.0 L161.9 397.6 L162.1 398.0 L162.5 395.5 L162.5 395.5 L162.8 395.1 L162.8 392.3 L163.1 391.1 L163.1 390.5 L163.5 389.8 L163.4 389.6 L163.8 386.9 L163.9 386.8 L164.0 385.5 L163.9 383.4 L164.1 383.7 L164.4 381.1 L164.4 381.3 L164.5 378.9 L164.6 377.7 L164.5 377.5 L164.7 376.6 L164.6 374.8 L164.7 374.3 L164.7 372.2 L164.8 370.9 L164.9 370.4 L165.0 370.4 L165.0 368.6 L165.1 367.1 L165.1 365.8 L165.4 365.8 L165.4 363.4 L165.5 363.0 L165.5 362.8 L165.8 361.3 L166.1 359.2 L166.1 357.7 L166.2 356.8 L166.8 358.5 L167.0 359.2 L167.3 357.8 L167.4 357.5 L167.5 355.7 L167.6 353.7 L167.9 352.7 L167.9 352.0 L168.3 350.5 L168.4 351.3 L168.5 349.2 L168.6 350.0 L168.9 351.3 L169.1 352.2 L169.4 353.7 L169.5 355.5 L169.6 357.8 L169.8 357.2 L169.7 358.5 L169.8 358.9 L169.9 361.2 L170.0 361.7 L170.0 362.4 L170.1 363.7 L170.0 364.8 L170.2 366.6 L170.4 368.4 L170.5 369.9 L170.5 370.5 L170.8 369.8 L170.8 367.7 L170.9 367.9 L171.2 366.0 L171.4 363.2 L171.5 363.0 L171.6 365.1 L171.8 365.8 L171.8 365.5 L172.0 367.6 L172.1 369.4 L172.2 370.0 L172.2 371.4 L172.1 371.4 L172.3 372.3 L172.5 373.4 L172.5 375.5 L172.7 374.5 L172.8 373.6 L172.7 372.2 L173.1 371.8 L173.1 370.0 L173.1 369.3 L173.3 368.4 L173.5 366.8 L173.6 364.6 L173.7 365.1 L174.0 364.0 L174.0 362.4 L174.2 361.2 L174.3 360.8 L174.2 359.4 L174.5 358.0 L174.6 358.2 L174.7 360.8 L174.7 361.4 L174.9 361.3 L175.2 363.9 L175.2 365.0 L175.4 365.7 L175.5 366.8 L175.8 367.9 L176.2 370.2 L176.8 371.6 L177.0 371.8 L177.1 371.7 L177.4 374.7 L177.3 375.0 L177.6 375.5 L177.6 376.6 L177.7 377.6 L177.7 380.6 L177.9 381.4 L178.0 381.8 L178.6 383.9 L179.1 383.6 L179.5 385.5 L179.8 384.2 L180.3 381.8 L180.8 381.8 L180.8 382.8 L181.0 383.1 L181.2 384.7 L181.3 385.1 L181.3 388.2 L181.6 389.5 L181.6 390.6 L181.7 390.4 L181.9 393.1 L182.0 393.0 L182.0 393.8 L182.0 394.7 L182.3 395.4 L182.4 396.9 L182.3 398.0 L182.3 399.7 L182.6 400.5 L182.6 402.8 L182.7 403.3 L182.7 405.2 L182.6 405.7 L182.8 406.9 L182.9 408.1 L182.8 408.0 L182.9 410.7 L183.1 410.7 L183.3 411.4 L183.2 413.0 L183.3 413.0 L183.4 411.1 L183.6 409.7 L183.6 407.7 L183.9 406.6 L183.8 406.2 L184.2 406.0 L184.1 403.8 L184.1 402.0 L184.3 401.3 L184.5 400.5 L184.9 398.6 L185.5 398.0 L185.7 397.0 L185.7 396.3 L185.8 394.4 L185.8 393.2 L185.9 391.3 L185.9 392.3 L186.2 390.1 L186.1 389.8 L186.2 387.2 L186.4 386.4 L186.5 385.5 L187.1 385.3 L187.5 383.0 L187.5 385.0 L187.8 384.2 L187.9 387.4 L187.9 387.8 L188.3 388.5 L188.5 390.6 L188.5 391.0 L188.6 391.0 L188.7 387.8 L189.1 387.7 L189.2 387.6 L189.4 385.7 L189.5 384.2 L189.7 385.4 L190.0 385.6 L190.2 387.4 L190.2 389.6 L190.5 390.5 L190.6 388.5 L190.8 388.6 L190.7 386.3 L191.0 386.2 L191.0 384.8 L191.1 384.2 L191.4 382.4 L191.5 381.8 L191.6 384.0 L191.7 384.9 L191.7 384.5 L192.0 387.4 L191.9 386.9 L192.2 388.5 L192.1 389.4 L192.4 391.2 L192.3 391.2 L192.5 393.0 L192.9 393.9 L193.2 395.9 L193.7 397.5 L194.0 398.0 L194.2 399.3 L194.4 401.6 L194.7 402.5 L195.0 403.0 L195.8 401.1 L196.5 400.5 L196.8 401.1 L196.7 402.7 L197.0 403.2 L197.3 405.3 L197.3 405.2 L197.6 406.5 L197.5 407.4 L197.8 408.3 L198.0 410.5 L198.6 412.7 L199.1 413.6 L199.5 414.2 L201.0 415.5 L201.2 415.3 L201.6 412.2 L201.6 412.3 L202.0 410.9 L202.2 408.9 L202.5 408.0 L202.7 406.0 L203.2 405.0 L203.5 405.3 L204.0 403.0 L204.2 402.9 L204.6 400.2 L204.7 400.0 L205.0 396.9 L205.4 396.4 L205.5 395.5 L206.2 396.0 L207.0 398.0 L207.2 397.7 L207.7 395.3 L207.8 394.9 L208.1 391.9 L208.5 391.8 L208.9 394.0 L209.6 394.8 L210.0 395.5 L210.3 396.4 L210.8 399.1 L211.2 398.7 L211.5 400.5 L213.0 401.8 L213.3 402.6 L213.8 403.1 L214.2 406.5 L214.5 406.8 L214.9 409.1 L215.5 408.6 L216.0 410.5 L216.6 410.3 L216.9 407.7 L217.5 406.8 L217.8 407.8 L218.0 410.3 L218.5 411.2 L218.8 412.5 L219.0 413.0 L220.5 414.2 L220.8 415.8 L221.2 416.3 L221.5 418.7 L222.0 419.2 L222.8 417.3 L223.5 416.8 L223.7 417.4 L224.3 418.1 L224.8 420.1 L225.0 421.8 L225.6 421.4 L225.9 418.7 L226.5 418.0 L227.2 415.8 L228.0 415.5 L228.7 417.3 L229.5 418.0 L230.0 416.1 L230.6 415.8 L231.0 414.2 L231.2 413.8 L231.1 412.5 L231.3 411.8 L231.5 410.0 L231.5 409.4 L231.7 407.1 L232.0 405.8 L232.0 405.5 L232.4 404.4 L233.1 402.8 L233.5 401.8 L233.9 403.0 L234.5 405.0 L235.0 405.5 L235.1 407.9 L235.6 407.9 L235.9 410.1 L235.9 409.4 L236.2 410.8 L236.5 413.0 L236.8 415.4 L237.1 416.5 L237.4 417.6 L237.8 417.4 L238.0 419.2 L239.5 418.0 L240.1 417.8 L241.0 415.5 L241.8 414.5 L242.5 413.0 L243.2 411.1 L244.0 410.5 L244.4 410.9 L245.0 412.4 L245.5 414.2 L245.9 415.9 L246.4 415.6 L247.0 418.0 L248.5 416.8 L250.0 415.5 L251.2 415.7 L252.5 415.0 L253.7 415.0 L255.0 416.0 L256.3 417.7 L257.5 418.0 L258.6 416.3 L260.0 416.8 L261.3 416.9 L262.5 417.5 L263.6 418.1 L265.0 418.0 L265.2 418.4 L265.3 420.3 L265.6 421.3 L265.7 422.5 L265.8 423.9 L266.0 425.5 L266.3 427.5 L266.1 427.4 L266.2 429.4 L266.6 428.8 L266.7 430.9 L266.8 431.9 L266.7 433.2 L266.9 433.2 L267.0 435.5 L267.3 437.1 L267.4 437.0 L267.6 438.9 L267.7 439.7 L268.0 441.8 L268.4 443.1 L268.6 443.3 L269.0 446.2 L269.1 446.0 L269.5 448.0 L270.4 450.3 L271.0 450.5 L271.6 451.7 L272.5 453.0 L272.8 455.3 L273.3 456.5 L273.5 457.5 L274.0 458.0 L274.3 457.4 L274.9 455.3 L275.0 455.0 L275.5 453.0 L275.7 451.1 L276.0 450.5 L276.2 448.3 L276.6 448.5 L276.8 445.6 L277.0 445.5 L277.4 447.4 L277.9 448.8 L278.5 449.2 L278.8 450.7 L279.0 452.1 L279.4 452.8 L279.7 454.1 L280.0 455.5 L280.4 454.1 L280.8 451.9 L281.0 451.7 L281.5 450.5 L282.3 452.4 L283.0 453.0 L284.5 454.2 L286.0 453.0 L286.7 453.9 L287.5 455.0 L289.0 454.2 L289.6 455.1 L290.5 456.0 L291.0 454.1 L291.5 453.0 L292.0 453.0 L293.5 451.8 L293.7 450.5 L294.1 449.6 L294.7 448.6 L295.0 446.8 L295.6 448.0 L296.5 449.2 L298.0 448.0 L299.0 447.4 L300.0 446.8 L302.0 447.5 L302.9 447.6 L304.0 445.5 L305.5 446.0 L305.8 445.7 L305.9 444.3 L306.1 441.8 L306.2 441.4 L306.1 441.3 L306.5 439.8 L306.5 438.0 L306.7 435.7 L306.8 436.1 L307.0 435.2 L307.2 433.8 L307.5 431.8 L309.0 430.5 L310.5 429.2 L311.4 428.0 L312.0 426.8 L313.5 428.0 L314.2 426.0 L315.0 425.5 L315.2 424.3 L315.4 421.9 L315.9 420.9 L316.1 420.9 L316.3 418.5 L316.5 418.0 L316.8 415.8 L317.1 415.8 L317.5 414.2 L317.7 413.9 L318.0 411.9 L318.2 409.6 L318.3 409.6 L318.5 408.0 L318.7 407.5 L319.0 406.7 L319.3 403.9 L319.5 403.0 L321.0 404.2 L321.2 402.9 L321.5 402.3 L321.8 401.3 L322.3 399.6 L322.5 398.0 L324.0 399.2 L324.2 400.7 L324.3 401.3 L324.5 401.9 L324.8 404.5 L325.0 405.5 L325.9 404.3 L326.5 403.0 L326.8 400.9 L327.1 400.9 L327.6 398.1 L328.0 398.0 L328.2 395.8 L328.5 394.8 L328.7 394.5 L329.0 393.3 L329.4 390.9 L329.5 390.5 L329.6 388.6 L330.0 387.0 L330.3 387.6 L330.5 385.5 L330.5 384.1 L330.8 382.0 L330.8 382.1 L330.9 381.2 L331.1 380.7 L331.3 377.9 L331.3 376.2 L331.3 375.9 L331.5 375.0 L331.7 375.1 L331.8 376.1 L331.8 379.5 L332.0 378.9 L332.2 380.8 L332.2 382.7 L332.3 382.6 L332.5 384.2 L332.9 381.9 L333.1 382.4 L333.4 379.3 L333.5 379.2 L334.2 378.6 L335.0 376.8 L335.1 378.4 L335.1 378.3 L335.2 379.4 L335.6 380.7 L335.7 382.7 L335.7 383.8 L335.9 384.5 L336.0 385.5 L337.5 386.8 L337.7 388.7 L337.9 388.7 L338.0 391.6 L338.2 392.7 L338.5 393.0 L338.7 391.2 L339.1 391.1 L339.2 389.8 L339.4 388.9 L339.9 386.1 L340.0 385.5 L340.2 387.1 L340.5 388.4 L340.6 389.2 L340.8 391.0 L340.9 391.6 L341.0 393.0 L341.1 392.1 L341.4 390.1 L341.7 388.7 L341.6 387.8 L342.1 386.6 L342.0 386.1 L342.2 384.2 L342.5 384.2 L342.9 383.5 L343.3 382.2 L343.7 379.5 L344.0 379.2 L344.5 380.2 L344.9 382.5 L345.2 382.0 L345.5 384.2 L346.0 386.5 L346.2 385.8 L346.5 387.1 L347.0 389.2 L347.8 388.8 L348.5 386.8 L349.1 388.3 L349.4 389.6 L350.0 390.5 L350.6 388.3 L351.5 388.0 L352.4 388.0 L353.5 386.8 L354.5 387.2 L355.5 388.5 L356.2 388.4 L357.0 390.5 L357.2 391.2 L357.3 392.7 L357.5 395.4 L357.7 396.3 L357.8 395.6 L358.0 398.0 L358.5 399.1 L358.8 400.1 L359.0 401.8 L359.5 403.0 L361.0 401.8 L362.5 403.0 L362.9 402.6 L363.4 401.3 L364.0 399.2 L364.3 399.3 L364.9 402.4 L365.1 401.8 L365.5 404.2 L365.9 405.5 L366.2 406.0 L366.5 408.0 L366.7 406.5 L366.8 405.2 L366.7 404.1 L366.9 403.9 L367.0 401.4 L367.1 400.2 L367.2 400.5 L367.2 399.2 L367.3 397.5 L367.3 397.6 L367.5 395.5 L368.1 395.2 L369.0 393.0 L370.5 394.2 L370.9 394.8 L371.5 397.7 L372.0 398.0 L372.4 399.0 L372.6 399.9 L373.0 401.8 L373.2 403.6 L373.5 404.2 L373.9 405.1 L374.6 405.9 L375.0 408.0 L375.4 409.6 L375.6 409.7 L376.0 411.8 L376.5 411.2 L377.0 408.4 L377.5 408.0 L379.0 406.8 L379.4 408.9 L379.9 408.5 L380.5 410.5 L381.1 412.2 L381.4 412.2 L382.0 414.2 L382.4 412.4 L382.9 411.8 L383.5 410.5 L385.0 411.8 L385.7 410.1 L386.5 409.2 L387.1 411.6 L387.6 410.8 L388.0 413.0 L388.0 410.8 L388.1 411.7 L388.0 409.8 L388.0 407.3 L388.0 406.8 L388.3 404.6 L388.6 404.0 L389.2 402.8 L389.5 401.8 L390.0 401.0 L390.5 399.6 L391.0 398.0 L392.5 399.2 L392.9 397.1 L393.3 396.5 L393.6 396.5 L394.0 394.2 L395.5 393.0 L397.0 394.2 L397.6 393.2 L397.9 391.6 L398.5 390.5 L400.0 389.2 L400.9 391.0 L401.5 391.8 L402.1 393.7 L402.6 395.1 L403.0 395.5 L403.7 397.1 L404.5 398.0 L405.3 398.8 L406.0 400.5 L406.1 400.8 L406.4 403.7 L406.4 404.6 L406.7 405.3 L406.8 407.0 L407.0 408.0 L407.2 409.6 L407.1 409.5 L407.1 412.1 L407.3 412.6 L407.2 412.7 L407.3 414.1 L407.3 417.1 L407.3 416.3 L407.4 418.5 L407.4 419.6 L407.4 421.5 L407.6 421.6 L407.5 423.0 L407.6 423.4 L407.7 425.0 L407.8 425.5 L407.6 427.2 L407.7 428.1 L407.8 428.6 L407.9 430.7 L407.8 431.6 L408.0 432.5 L408.0 434.2 L408.2 434.1 L408.5 431.1 L408.5 430.2 L408.9 428.4 L409.0 428.0 L409.2 427.5 L409.4 425.4 L409.6 423.6 L409.7 422.6 L409.9 422.5 L410.0 420.5 L410.3 419.2 L410.6 418.1 L411.0 416.8 L411.3 418.8 L411.6 420.1 L412.0 420.5 L412.2 419.0 L412.4 417.8 L412.8 415.6 L413.0 415.5 L413.4 413.7 L414.0 412.5 L414.5 411.8 L415.3 412.8 L416.0 414.2 L416.5 413.4 L417.1 412.8 L417.5 410.5 L418.3 410.7 L419.0 413.0 L419.3 412.7 L419.6 409.6 L419.6 409.6 L420.0 408.0 L420.6 405.6 L420.9 405.9 L421.5 404.2 L421.6 402.0 L422.0 401.1 L422.0 400.1 L422.4 400.2 L422.5 398.0 L423.0 396.0 L423.3 395.8 L423.7 394.7 L424.0 393.0 L424.6 394.9 L425.1 394.8 L425.5 396.8 L425.9 395.6 L426.4 394.1 L426.6 393.1 L427.0 391.8 L427.6 392.4 L428.5 394.2 L429.1 393.4 L430.0 392.5 L430.6 391.2 L431.5 390.0 L432.0 391.0 L432.6 392.1 L433.0 393.0 L434.5 391.8 L435.4 391.8 L436.0 394.2 L437.5 393.0 L438.3 393.9 L439.0 395.0 L440.5 395.5 L442.0 396.0 L443.5 395.0 L445.0 395.5 L445.9 394.6 L446.5 393.0 L446.6 391.4 L446.7 391.6 L447.0 389.6 L447.2 386.9 L447.5 387.2 L447.5 385.5 L448.1 383.8 L448.5 383.0 L449.0 381.8 L450.5 380.5 L452.0 381.8 L452.4 381.5 L453.0 379.8 L453.5 378.0 L454.4 378.6 L455.0 380.0 L455.7 380.6 L456.5 381.8 L458.0 380.5 L458.3 381.8 L458.4 382.3 L458.6 384.1 L458.7 386.3 L459.0 386.8 L459.7 388.8 L460.5 389.2 L460.9 388.0 L461.6 386.8 L462.0 385.5 L463.5 385.0 L464.1 386.4 L464.4 386.6 L465.0 388.0 L465.8 386.5 L466.5 386.0 L468.0 386.8 L468.8 385.8 L469.5 384.2 L470.3 381.9 L471.0 381.8 L471.5 381.4 L471.9 378.2 L472.5 378.0 L472.9 375.6 L473.5 376.5 L474.0 374.2 L474.6 373.4 L475.0 372.7 L475.5 370.5 L476.0 372.0 L476.5 373.0 L476.7 372.2 L476.8 370.9 L477.1 369.7 L477.2 368.6 L477.5 366.8 L477.7 364.7 L478.3 364.9 L478.5 363.0 L480.0 361.8 L480.3 360.9 L480.8 360.0 L481.0 358.0 L481.2 356.9 L481.5 355.0 L481.7 353.8 L482.0 353.0 L482.9 354.6 L483.5 355.5 L483.8 353.2 L483.9 351.9 L484.3 352.5 L484.5 350.5 L486.0 349.2 L486.5 351.5 L487.0 350.6 L487.5 353.0 L487.9 352.0 L488.1 351.7 L488.3 349.0 L488.6 348.3 L489.0 346.8 L489.1 344.7 L489.6 343.1 L489.9 342.1 L490.0 341.8 L490.4 339.5 L490.4 338.4 L490.7 338.5 L491.0 336.8 L491.3 336.1 L491.8 333.2 L492.2 333.5 L492.5 331.8 L492.6 331.1 L493.1 329.6 L493.4 327.9 L493.5 326.8 L493.9 324.9 L493.9 324.8 L494.3 321.8 L494.5 321.8 L494.7 321.3 L495.2 318.8 L495.5 318.0 L495.7 316.1 L495.5 315.7 L495.7 314.3 L495.8 313.3 L495.9 311.4 L496.0 310.8 L496.0 310.0 L496.2 309.1 L496.6 307.2 L496.8 307.3 L497.0 305.0 L497.3 306.4 L497.8 306.4 L498.0 308.8 L498.5 310.5 L498.8 310.8 L499.2 313.6 L499.5 313.8 L499.9 315.2 L500.6 316.1 L501.0 317.5 L501.8 316.0 L502.5 315.0 L502.9 314.0 L502.9 313.2 L503.2 310.1 L503.5 309.8 L503.9 309.5 L504.0 307.5 L504.3 305.2 L504.6 305.7 L504.7 303.9 L505.1 303.3 L505.4 301.7 L505.5 300.0 L505.7 298.4 L506.2 297.6 L506.5 295.5 L506.6 296.0 L507.0 293.8 L508.0 295.0 L508.2 294.2 L508.2 292.7 L508.5 291.1 L508.5 291.3 L508.7 288.5 L508.7 289.1 L509.0 287.5 L509.0 286.2 L510.0 285.0 L510.2 287.2 L510.4 287.4 L510.4 288.0 L510.7 289.2 L510.9 290.9 L511.0 292.5 L511.3 293.5 L511.4 294.2 L511.7 297.4 L512.0 297.5 L512.2 295.3 L512.2 295.7 L512.5 294.0 L512.5 292.5 L513.0 290.1 L513.0 290.0 L513.5 289.6 L513.9 287.7 L514.5 286.2 L514.7 285.7 L515.0 284.8 L515.2 283.3 L515.2 280.7 L515.5 280.0 L515.9 280.5 L516.4 281.5 L517.0 283.8 L517.6 285.1 L518.1 286.1 L518.5 287.5 L518.9 287.2 L519.5 285.2 L520.0 283.8 L521.5 285.0 L522.4 282.8 L523.0 282.5 L523.4 280.8 L523.9 280.6 L524.1 279.5 L524.5 278.0 L524.6 279.0 L525.1 281.5 L525.1 280.8 L525.5 282.1 L525.9 284.8 L526.0 285.0 L526.1 287.1 L526.6 288.2 L526.9 289.1 L526.9 288.9 L527.4 291.9 L527.5 292.5 L527.7 291.7 L528.2 290.2 L528.3 287.8 L528.6 286.9 L529.0 286.2 L529.7 285.0 L530.5 283.8 L532.0 285.0 L532.1 285.6 L532.2 287.9 L532.4 289.3 L532.8 288.9 L533.0 290.6 L533.0 292.5 L533.3 294.6 L533.3 294.1 L533.6 295.3 L533.7 298.3 L533.8 298.6 L534.0 300.0 L534.2 301.9 L534.2 302.5 L534.4 302.7 L534.7 305.0 L534.9 304.7 L535.0 306.1 L535.1 307.0 L535.3 309.7 L535.5 310.0 L535.9 310.5 L536.4 312.1 L536.8 312.8 L537.0 315.0 L537.4 312.7 L537.5 312.9 L537.8 311.2 L538.1 309.4 L538.5 308.8 L539.0 309.7 L539.4 312.4 L539.6 311.5 L540.0 313.8 L540.4 313.5 L540.9 311.8 L541.5 310.0 L541.9 309.9 L542.5 308.2 L543.0 306.2 L543.1 306.6 L543.4 309.5 L543.6 309.2 L543.7 312.2 L544.0 312.5 L544.6 313.9 L545.5 315.0 L546.3 313.0 L547.0 312.5 L547.7 314.3 L548.5 315.0 L550.0 316.2 L550.2 316.7 L550.7 319.3 L551.0 320.5 L551.7 321.2 L552.5 323.0 L553.1 322.0 L553.5 321.2 L554.0 319.2 L554.0 317.4 L554.3 317.6 L554.4 316.4 L554.6 315.5 L554.9 314.4 L555.0 312.5 L555.1 311.2 L555.4 311.0 L555.5 309.6 L555.9 306.7 L556.0 306.2 L556.2 304.7 L556.6 303.4 L556.9 301.3 L557.2 301.1 L557.5 300.0 L558.1 297.8 L558.6 298.3 L559.0 296.2 L559.8 294.6 L560.5 293.8 L562.0 292.5 L563.5 293.8 L564.3 292.6 L565.0 292.0 L565.9 289.9 L566.5 290.0 L566.9 292.3 L567.3 292.5 L567.5 293.8 L568.0 295.0 L568.4 297.4 L568.9 296.7 L569.5 298.8 L571.0 297.5 L571.4 298.2 L571.5 298.9 L571.8 301.7 L572.2 301.3 L572.5 303.8 L573.0 302.7 L573.4 301.7 L574.0 300.0 L574.2 299.8 L574.2 296.7 L574.5 296.7 L574.6 295.0 L574.7 294.2 L575.1 293.6 L575.2 291.4 L575.2 291.7 L575.5 290.0 L576.0 289.5 L576.2 287.2 L576.6 287.1 L577.0 285.0 L577.5 283.5 L577.7 283.2 L578.1 280.6 L578.5 280.0 L579.1 278.6 L579.6 278.2 L580.0 276.2 L580.6 278.3 L581.0 277.7 L581.5 280.0 L582.4 279.8 L583.0 277.5 L583.5 278.1 L584.0 280.3 L584.5 281.2 L584.6 280.1 L585.0 278.6 L585.1 276.3 L585.6 277.4 L585.8 276.0 L586.0 273.8 L586.6 275.7 L586.9 277.2 L587.5 277.5 L587.8 279.1 L588.2 280.4 L588.8 281.4 L589.0 282.5 L590.5 283.8 L591.2 285.3 L592.0 286.2 L592.4 287.5 L592.7 289.8 L593.2 289.5 L593.5 291.2 L595.0 292.5 L595.8 292.8 L596.5 295.0 L597.3 294.8 L598.0 292.5 L599.5 291.2 L599.9 291.9 L600.1 293.8 L600.5 294.1 L601.0 296.2 L602.5 297.5 L602.8 298.3 L603.2 299.5 L603.6 300.3 L604.0 302.5 L605.5 301.2 L605.9 303.3 L606.3 303.9 L606.7 304.3 L607.0 306.2 L607.2 307.4 L607.3 309.0 L607.4 309.5 L607.7 310.6 L607.9 312.2 L608.0 313.8 L608.5 311.3 L608.9 312.1 L609.5 310.0 L609.9 308.9 L610.4 307.0 L610.7 305.8 L611.0 305.0 L611.2 302.9 L611.7 303.4 L612.1 300.2 L612.5 300.0 L614.0 301.2 L614.3 302.4 L614.4 302.8 L614.8 306.1 L615.0 305.4 L615.3 307.1 L615.5 308.8 L615.9 307.8 L616.1 307.0 L616.5 305.6 L616.7 304.4 L617.0 302.5 L617.6 301.9 L618.0 300.0 L618.1 302.2 L618.4 303.4 L618.8 304.4 L619.1 305.0 L619.2 306.4 L619.5 307.5 L620.4 306.9 L621.0 305.0 L622.5 306.2 L622.8 305.3 L623.2 303.6 L623.6 303.0 L624.0 301.2 L624.8 299.7 L625.5 298.8 L626.2 297.2 L627.0 296.2 L627.9 298.2 L628.5 298.8 L628.8 300.0 L629.0 300.5 L629.4 301.6 L629.6 303.9 L630.0 305.0 L631.5 303.8 L631.9 305.8 L632.6 306.7 L633.0 307.0 L633.7 307.1 L634.5 305.0 L635.4 306.1 L636.0 307.5 L637.5 306.2 L637.6 306.3 L637.9 308.9 L638.2 311.0 L638.4 311.3 L638.5 312.5 L638.7 313.7 L638.8 315.3 L639.1 315.6 L639.4 316.8 L639.4 318.7 L639.6 318.5 L639.8 320.4 L640.0 321.8 L641.5 323.0 L643.0 324.2 L643.6 323.2 L644.0 322.9 L644.5 320.5 L646.0 321.8 L646.3 322.9 L646.6 325.4 L647.0 325.6 L647.1 326.0 L647.5 328.0 L647.8 330.4 L647.7 330.5 L648.1 332.7 L648.3 333.8 L648.3 335.2 L648.5 335.5 L648.6 335.9 L648.8 338.0 L648.9 338.5 L649.2 340.8 L649.5 341.4 L649.5 343.0 L649.5 344.6 L649.9 345.3 L650.1 346.3 L650.1 346.8 L650.4 350.1 L650.5 350.5 L651.2 349.7 L652.0 348.0 L652.8 346.7 L653.5 345.5 L654.0 346.2 L654.6 348.1 L655.0 349.2 L655.3 348.2 L655.6 345.8 L656.0 346.1 L656.5 344.2 L657.2 344.5 L658.0 346.8 L658.5 345.6 L658.8 344.5 L659.0 341.9 L659.5 341.8 L661.0 343.0 L661.4 342.4 L662.0 341.0 L662.5 339.2 L664.0 338.0 L665.5 339.2 L666.2 337.2 L667.0 336.8 L667.6 337.0 L668.0 339.4 L668.5 340.5 L668.8 341.6 L669.4 341.9 L669.8 344.4 L670.0 345.5 L671.5 346.8 L672.3 347.9 L673.0 349.2 L674.5 350.5 L674.6 348.6 L675.1 349.0 L675.4 346.3 L675.4 346.3 L675.9 344.5 L676.0 343.0 L676.1 344.2 L676.0 345.5 L676.3 346.1 L676.5 348.5 L677.0 348.8 L677.3 350.5 L677.5 351.8 L678.2 349.9 L679.0 349.2 L680.5 350.5 L681.2 348.9 L682.0 348.0 L682.7 350.4 L683.5 350.5 L685.0 349.2 L686.5 350.5 L686.8 349.4 L687.2 348.1 L687.5 346.5 L688.0 345.5 L689.5 346.8 L691.0 345.5 L692.0 344.2 L692.1 344.5 L692.0 346.2 L692.1 346.9 L692.0 348.2 L692.2 350.4 L692.3 350.3 L692.2 351.3 L692.2 354.2 L692.5 354.4 L692.3 356.4 L692.5 356.5 L692.5 358.0 L693.0 359.0 L693.3 359.8 L693.5 361.8 L694.2 360.5 L695.0 359.2 L696.5 360.5 L697.1 359.1 L698.0 358.0 L699.5 359.2 L700.2 358.5 L701.0 356.8 L702.5 355.5 L703.3 357.7 L704.0 358.0 L705.5 359.2 L707.0 358.0 L708.5 359.2 L709.2 357.7 L710.0 356.8 L710.2 355.8 L710.6 355.1 L711.0 353.0 L711.2 351.8 L711.4 349.9 L711.5 349.0 L711.6 348.2 L711.7 346.5 L712.0 345.5 L712.9 343.5 L713.5 343.0 L713.9 341.3 L714.2 339.6 L714.5 339.2 L716.0 338.0 L716.8 338.9 L717.5 340.5 L719.0 341.8 L719.4 340.0 L719.9 338.8 L720.5 338.0 L721.3 335.9 L722.0 335.5 L723.5 335.0 L723.8 335.5 L724.3 338.1 L724.7 339.1 L725.0 339.2 L726.5 338.0 L726.9 338.4 L727.5 340.5 L727.7 340.6 L727.7 343.4 L727.8 344.0 L727.8 346.0 L728.0 346.8 L728.2 346.3 L728.3 344.6 L728.7 342.1 L728.9 342.3 L729.0 340.5 L729.0 338.1 L729.2 337.2 L729.5 336.3 L729.6 334.4 L729.7 334.6 L730.0 333.0 L730.3 332.6 L730.4 331.0 L730.8 329.1 L731.0 328.0 L732.5 326.8 L734.0 325.5 L735.5 326.8 L735.9 325.1 L736.6 325.1 L737.0 323.0 L738.5 324.2 L739.1 325.0 L740.0 326.8 L741.5 328.0 L742.3 327.6 L743.0 325.5 L743.7 325.7 L744.5 328.0 L746.0 329.2 L747.5 330.5 L749.0 329.2 L749.8 329.6 L750.5 331.8 L752.0 330.5 L753.5 331.8 L755.0 333.0 L755.6 331.1 L755.9 331.1 L756.5 329.2 L756.8 328.5 L757.3 327.3 L757.5 325.0 L758.0 324.2 L759.5 323.0 L761.0 321.8 L762.5 322.5 L764.0 321.0 L765.5 321.8 L766.2 324.1 L767.0 324.2 L768.5 325.0 L770.0 324.2 L771.5 325.5 L773.0 324.2 L774.5 325.5 L774.8 327.8 L775.1 328.6 L775.2 329.6 L775.5 330.5 L777.0 331.8 L778.5 332.5 L780.0 331.8 L781.5 333.0 L783.0 333.5 L783.8 331.6 L784.5 331.8 L786.0 330.5 L787.5 331.0 L788.3 330.0 L789.0 329.2 L790.5 330.0 L791.1 330.0 L792.0 328.0 L792.4 327.4 L793.0 325.5 L793.6 324.7 L794.0 323.0 L794.3 321.2 L794.5 321.6 L794.7 319.4 L795.0 318.0 L795.3 315.7 L795.6 315.3 L796.0 314.2 L797.5 313.0 L799.0 311.8 L800.5 312.5 L801.1 311.0 L802.0 310.5 L803.5 311.0 L804.3 310.6 L805.0 309.2 L806.5 308.0 L806.5 306.3 L806.7 305.8 L806.8 305.7 L807.0 303.1 L807.0 302.5 L808.5 301.2 L809.3 301.6 L810.0 303.8 L810.6 302.1 L811.1 301.4 L811.5 300.0 L813.0 301.2 L813.8 299.2 L814.5 298.8 L816.0 300.0 L816.5 299.0 L817.1 298.1 L817.5 296.2 L817.8 296.6 L818.2 298.4 L818.6 298.9 L819.0 301.2 L820.5 302.5 L821.1 302.8 L821.4 304.4 L822.0 305.5 L822.7 304.2 L823.5 303.8 L823.9 302.2 L824.4 300.2 L825.0 300.0 L825.6 299.9 L826.1 296.5 L826.5 296.2 L826.9 296.2 L827.2 292.8 L827.5 292.3 L828.0 291.2 L829.5 290.0 L831.0 288.8 L831.0 287.8 L831.3 287.6 L831.5 285.8 L831.4 284.7 L831.5 282.7 L831.8 281.1 L831.8 281.9 L832.0 280.0 L832.3 278.0 L832.6 278.3 L832.8 275.5 L833.0 275.0 L833.8 274.5 L834.5 272.5 L835.2 270.8 L836.0 270.0 L836.1 272.0 L836.3 272.2 L836.6 273.4 L836.5 274.4 L836.9 276.4 L837.0 277.5 L837.8 277.0 L838.5 275.0 L839.1 274.7 L839.5 272.5 L840.0 271.2 L840.3 271.7 L840.6 273.9 L841.0 275.5 L841.5 276.2 L842.1 274.9 L842.4 272.8 L843.0 272.5 L844.5 271.2 L844.8 272.4 L845.1 274.3 L845.7 275.8 L846.0 276.2 L847.5 275.0 L848.0 276.9 L848.5 277.0 L849.0 278.8 L849.5 280.0 L850.0 280.9 L850.5 282.5 L851.0 281.6 L851.1 281.0 L851.6 278.3 L852.0 277.5 L852.7 278.9 L853.5 280.0 L853.9 278.0 L854.5 277.1 L855.0 276.2 L855.9 276.1 L856.5 273.8 L858.0 272.5 L859.5 271.2 L861.0 272.0 L861.9 273.8 L862.5 273.8 L864.0 275.0 L864.8 277.4 L865.5 277.5 L867.0 278.8 L867.4 280.7 L868.0 281.7 L868.5 282.5 L870.0 281.2 L870.5 282.0 L871.0 284.8 L871.5 285.0 L871.7 284.1 L872.1 282.1 L872.2 280.1 L872.5 280.4 L872.8 277.8 L873.0 277.5 L873.8 275.9 L874.5 275.0 L876.0 273.8 L876.5 274.8 L877.0 276.4 L877.5 277.5 L877.8 277.8 L878.3 280.9 L878.7 280.3 L879.0 282.5 L879.6 283.2 L880.5 285.0 L880.8 283.8 L881.3 282.5 L881.6 280.6 L882.0 280.0 L882.8 277.8 L883.5 277.5 L883.9 279.0 L884.4 279.8 L885.0 281.2 L885.9 282.4 L886.5 283.8 L887.1 285.1 L887.4 286.9 L888.0 287.5 L888.4 287.4 L888.8 284.0 L889.0 283.5 L889.5 282.5 L890.3 282.4 L891.0 280.0 L892.5 278.8 L893.1 278.2 L894.0 276.2 L895.5 277.5 L895.9 279.4 L896.5 279.4 L897.0 281.2 L897.8 278.8 L898.5 278.8 L898.9 276.8 L899.5 276.7 L900.0 275.0 L901.5 273.8 L903.0 275.0 L903.8 274.7 L904.5 272.5 L904.8 272.1 L905.1 271.0 L905.3 268.0 L905.5 267.5 L906.1 268.4 L906.5 270.0 L906.8 269.2 L906.8 266.6 L907.1 266.8 L907.0 265.5 L907.2 264.0 L907.5 262.5 L907.8 261.4 L908.1 259.1 L908.2 259.2 L908.5 257.5 L908.8 255.5 L909.2 255.8 L909.5 253.8 L910.1 251.6 L911.0 251.2 L912.5 252.5 L913.3 250.3 L914.0 250.0 L915.5 251.2 L916.3 249.2 L917.0 248.8 L917.6 247.0 L918.0 246.2 L918.3 247.2 L918.8 249.7 L919.2 250.5 L919.5 251.2 L920.1 253.6 L921.0 253.8 L921.6 252.1 L922.5 251.2 L923.1 252.5 L923.4 254.5 L924.0 255.0 L924.8 253.0 L925.5 252.5 L926.0 251.7 L926.4 249.9 L927.0 248.8 L928.5 247.5 L930.0 246.2 L930.7 248.3 L931.5 248.8 L932.3 250.9 L933.0 251.2 L934.5 252.5 L936.0 252.0 L936.7 251.9 L937.5 253.8 L938.4 254.3 L939.0 256.2 L940.0 255.0 L940.0 256.5 L940.3 256.7 L940.5 258.7 L940.6 259.7 L940.9 260.1 L941.0 262.5 L941.2 260.9 L941.8 259.9 L942.0 258.8 L942.2 258.9 L942.6 261.7 L943.0 262.5 L943.5 260.7 L944.0 260.0 L945.0 261.2 L945.5 259.4 L946.0 258.8 L947.0 260.0 L948.0 261.2 L949.0 260.0 L949.6 261.3 L950.0 262.5 L950.2 264.9 L950.7 265.1 L951.0 266.2 L951.3 265.9 L951.4 264.1 L951.5 262.2 L951.9 262.0 L952.0 260.0 L953.0 261.2 L953.6 261.1 L954.0 258.8 L954.3 257.0 L954.5 256.8 L954.7 255.3 L955.0 253.8 L956.0 255.0 L956.5 253.9 L957.0 252.5 L958.0 253.8 L958.3 251.4 L958.8 250.8 L959.0 250.0 L959.5 248.7 L960.0 247.5 L961.0 248.8 L961.4 246.9 L962.0 246.2 L963.0 245.0 L964.0 243.8 L964.4 244.6 L965.0 246.2 L966.0 247.5 L966.6 245.1 L967.0 245.0 L967.3 246.1 L967.6 247.7 L968.0 248.8 L968.4 246.7 L969.0 246.2 L970.0 245.0 L970.4 245.8 L971.0 247.5 L972.0 248.8 L972.5 250.5 L973.0 251.2 L973.2 251.0 L973.5 249.8 L973.7 246.5 L974.0 246.2 L975.0 245.0 L976.0 246.2 L976.6 245.2 L977.0 243.8 L977.6 242.2 L978.0 241.2 L979.0 240.0 L980.0 238.8 L981.0 240.0 L982.0 239.5 L983.0 241.2 L984.0 240.0 L984.6 241.1 L985.0 242.5 L986.0 241.2 L987.0 240.0 L988.0 238.8 L988.5 239.0 L989.0 241.2 L990.0 242.5 L991.0 243.8 L992.0 242.5 L992.4 244.7 L993.0 245.0 L994.0 243.8 L995.0 242.5 L996.0 243.8 L996.4 241.9 L997.0 241.2 L998.0 240.0 L999.0 241.2 L1000.0 240.0 L1000.3 240.4 L1000.6 243.0 L1001.0 243.8 L1002.0 242.5 L1002.2 241.0 L1002.8 240.2 L1003.0 238.8 L1004.0 237.0 L1004.4 238.9 L1005.0 240.0 L1005.5 241.8 L1005.5 242.7 L1006.0 243.8 L1007.0 245.0 L1008.0 243.8 L1008.6 243.2 L1009.0 241.2 L1009.4 242.1 L1010.0 243.8 L1011.0 242.5 L1011.3 243.0 L1011.7 245.9 L1012.0 246.2 L1013.0 247.5 L1014.0 246.2 L1014.2 248.5 L1014.6 248.3 L1014.7 250.4 L1015.0 251.2 L1015.5 252.9 L1016.0 253.8 L1016.2 253.9 L1016.5 255.2 L1016.7 257.1 L1017.0 258.8 L1017.4 257.7 L1018.0 256.2 L1019.0 257.5 L1019.4 256.2 L1020.0 255.0 L1021.0 256.2 L1022.0 254.5 L1023.0 255.5 L1023.5 257.5 L1024.0 257.5 L1025.0 258.8 L1026.0 257.0 L1027.0 258.0 L1028.0 256.2 L1029.0 257.5 L1029.4 257.4 L1030.0 255.0 L1031.0 256.2 L1032.0 254.5 L1033.0 253.8 L1034.0 252.5 L1034.4 254.0 L1034.5 254.6 L1035.0 256.2 L1036.0 257.5 L1037.0 256.2 L1037.1 256.7 L1037.4 259.4 L1037.7 260.8 L1038.0 261.2 L1038.2 262.4 L1038.3 263.6 L1038.3 264.8 L1038.4 266.2 L1038.7 267.2 L1038.7 268.5 L1039.0 269.6 L1039.0 270.0 L1039.1 271.0 L1039.4 272.2 L1039.2 272.4 L1039.5 274.3 L1039.6 276.1 L1039.7 277.7 L1039.8 278.3 L1040.0 278.8 L1040.1 276.4 L1040.5 275.2 L1040.7 275.1 L1041.0 273.8 L1041.5 276.1 L1042.0 276.2 L1042.2 274.2 L1042.8 274.3 L1043.0 272.5 L1044.0 273.8 L1044.4 274.2 L1045.0 276.2 L1046.0 275.0 L1046.4 274.4 L1047.0 272.5 L1047.5 272.4 L1048.0 270.0 L1048.3 271.6 L1048.7 273.2 L1049.0 273.8 L1050.0 272.5 L1050.4 271.0 L1050.6 269.3 L1050.8 268.1 L1051.0 268.0 L1051.6 268.8 L1052.0 270.0 L1052.5 270.2 L1053.0 272.5 L1054.0 271.2 L1054.5 272.3 L1054.7 274.8 L1055.0 275.0 L1056.0 273.8 L1056.4 271.8 L1057.0 271.2 L1058.0 272.5 L1058.3 270.7 L1058.6 269.4 L1059.0 268.8 L1060.0 267.5" fill="none" stroke="#000" stroke-width="2.3" stroke-linejoin="round" stroke-linecap="round"/>
<line x1="116" x2="1060" y1="390.6" y2="390.6" stroke="#555" stroke-width="2"/>
<text transform="translate(17.53,31.8) scale(0.9347,1)" font-size="24" fill="#111" stroke="#111" stroke-width="0.4">BTC:</text>
<text transform="translate(74.27,31.8) scale(0.9627,1)" font-size="24" fill="#111" stroke="#111" stroke-width="0.4">Realized</text>
<text transform="translate(171.39,31.8) scale(1.0036,1)" font-size="24" fill="#111" stroke="#111" stroke-width="0.4">Profit/Loss</text>
<text transform="translate(292.19,31.8) scale(0.9547,1)" font-size="24" fill="#111" stroke="#111" stroke-width="0.4">Ratio</text>
<text transform="translate(352.57,31.8) scale(1.0178,1)" font-size="24" fill="#111" stroke="#111" stroke-width="0.4">(30d</text>
<text transform="translate(408.33,31.8) scale(0.9848,1)" font-size="24" fill="#111" stroke="#111" stroke-width="0.4">Exponential</text>
<text transform="translate(537.95,31.8) scale(1.0237,1)" font-size="24" fill="#111" stroke="#111" stroke-width="0.4">Moving</text>
<text transform="translate(624.30,31.8) scale(0.9592,1)" font-size="24" fill="#111" stroke="#111" stroke-width="0.4">Average)</text>
<circle cx="23.3" cy="59.7" r="3.9" fill="#e8912d"/>
<text transform="translate(30.71,63.9) scale(0.9941,1)" font-size="12" fill="#111" stroke="#111" stroke-width="0.25">BTC:</text>
<text transform="translate(60.20,63.9) scale(1.0022,1)" font-size="12" fill="#111" stroke="#111" stroke-width="0.25">Realized</text>
<text transform="translate(110.45,63.9) scale(1.0516,1)" font-size="12" fill="#111" stroke="#111" stroke-width="0.25">Profit/Loss</text>
<text transform="translate(173.40,63.9) scale(0.9962,1)" font-size="12" fill="#111" stroke="#111" stroke-width="0.25">Ratio</text>
<text transform="translate(205.38,63.9) scale(0.9644,1)" font-size="12" fill="#111" stroke="#111" stroke-width="0.25">(30d</text>
<text transform="translate(234.20,63.9) scale(1.0057,1)" font-size="12" fill="#111" stroke="#111" stroke-width="0.25">ema)</text>
<circle cx="281.7" cy="59.7" r="3.7" fill="#000"/>
<text transform="translate(288.89,63.9) scale(1.0099,1)" font-size="12" fill="#111" stroke="#111" stroke-width="0.25">BTC:</text>
<text transform="translate(318.67,63.9) scale(1.0291,1)" font-size="12" fill="#111" stroke="#111" stroke-width="0.25">Price</text>
<text transform="translate(351.03,63.9) scale(1.0230,1)" font-size="12" fill="#111" stroke="#111" stroke-width="0.25">[USD]</text>
</svg></body></html>
